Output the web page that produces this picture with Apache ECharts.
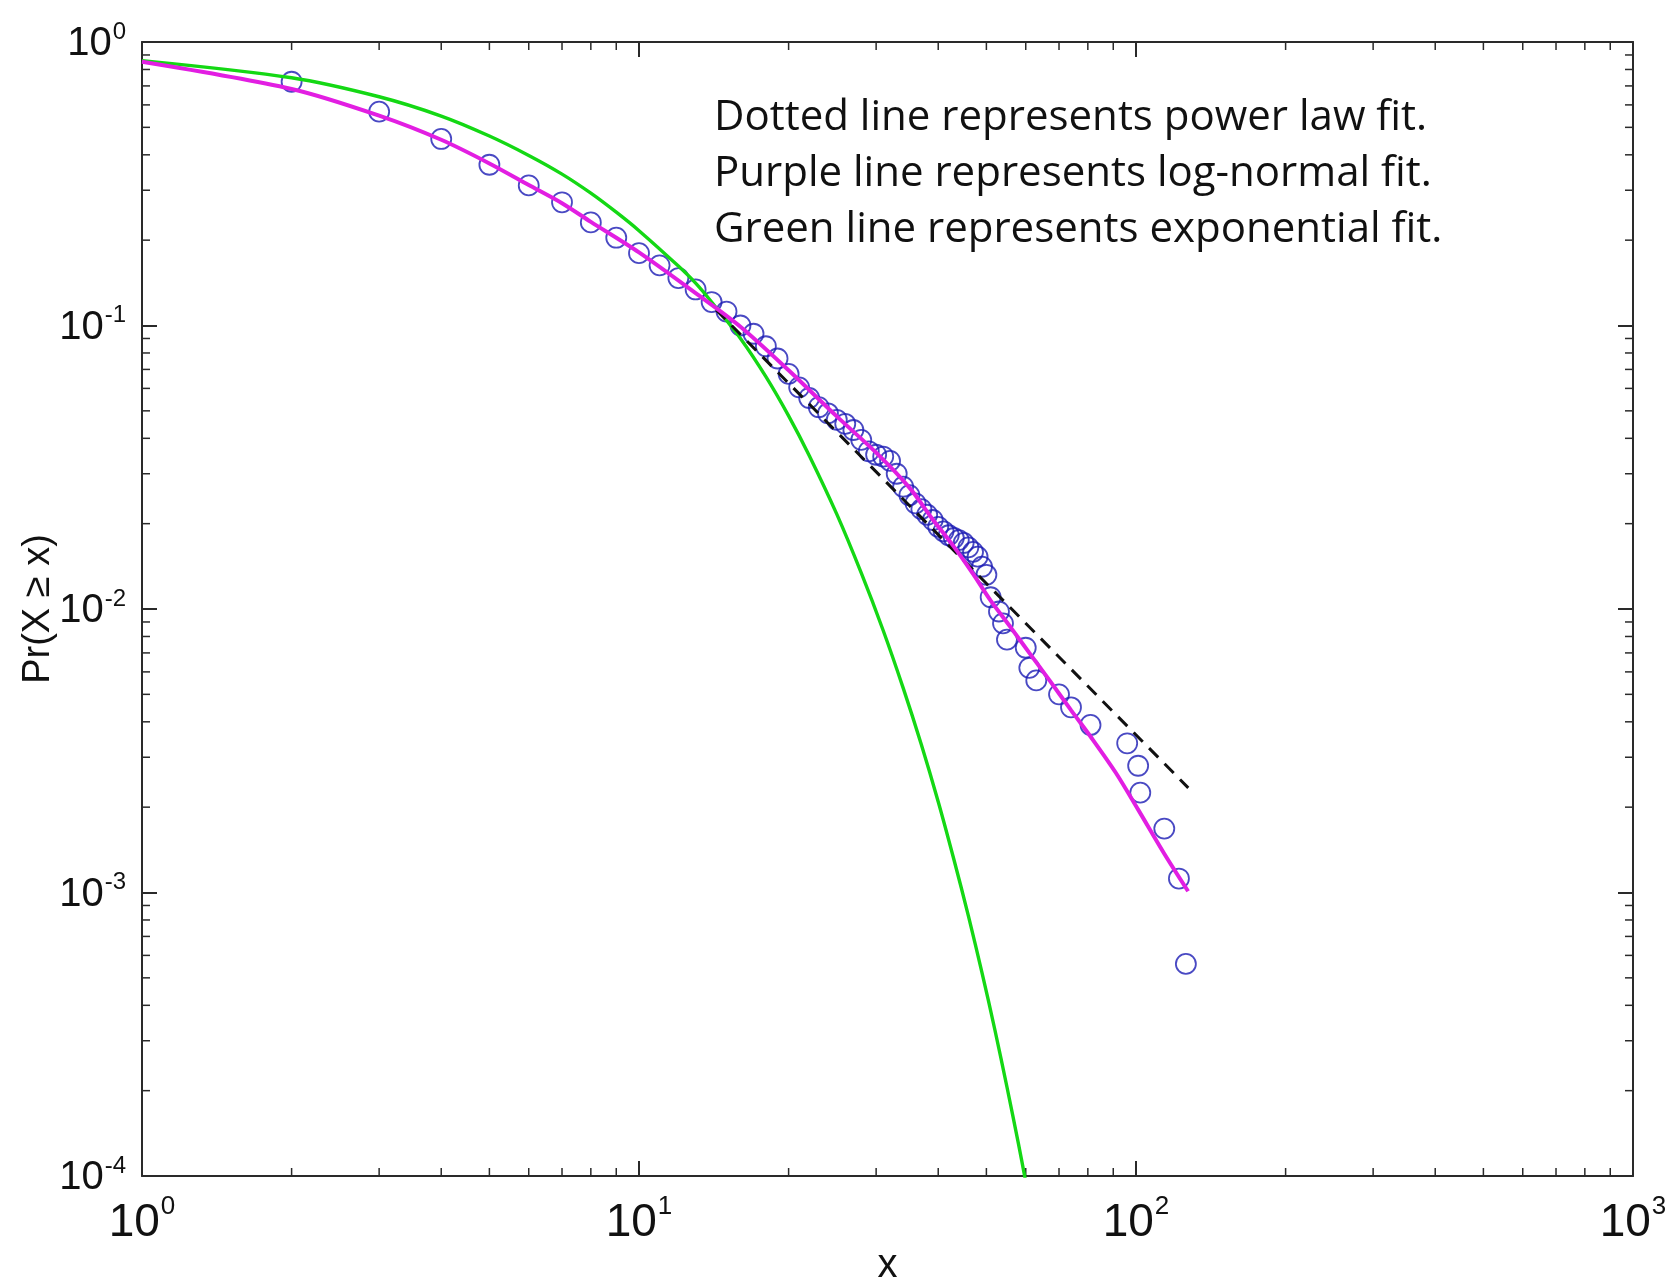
<!DOCTYPE html>
<html>
<head>
<meta charset="utf-8">
<script src="https://cdn.jsdelivr.net/npm/echarts@6/dist/echarts.min.js"></script>
<style>
html,body{margin:0;padding:0;background:#fff;}
#chart{width:1669px;height:1284px;}
</style>
</head>
<body>
<div id="chart"></div>
<script>
// ---- Data ----
const pointX = [2,3,4,5,6,7,8,9,10,11,12,13,14,15,16,17,18,19,20,21,22,23,24,25,26,27,28,29,30,31,32,33,34,35,36,37,38,39,40,41,42,43,44,45,46,47,48,49,50,51,53,54,55,60,61,63,70,74,81,96,101,102,114,122,126];
const pointY = [0.724,0.568,0.455,0.369,0.312,0.272,0.231,0.204,0.180,0.163,0.147,0.134,0.121,0.112,0.100,0.0935,0.0845,0.0765,0.0675,0.0605,0.0555,0.0515,0.0490,0.0465,0.0450,0.0428,0.0395,0.0360,0.0350,0.0345,0.0333,0.0300,0.0270,0.0252,0.0236,0.0225,0.0215,0.0206,0.0195,0.0188,0.0182,0.0178,0.0175,0.0171,0.0165,0.0159,0.0153,0.0141,0.0132,0.0110,0.0098,0.0089,0.0078,0.0073,0.0062,0.0056,0.0050,0.0045,0.0039,0.00336,0.00280,0.00225,0.00168,0.00112,0.00056];

const lognormX = [1,2,3,4,5,6,7,8,10,13,16,20,25,30,35,39,43,47,51,56,61,67,74,81,91,101,114,127.3];
const lognormY = [0.852,0.683,0.550,0.452,0.373,0.313,0.270,0.232,0.181,0.130,0.099,0.0695,0.0478,0.0356,0.0268,0.0207,0.0166,0.0133,0.0107,0.0086,0.0070,0.0056,0.0044,0.00355,0.00265,0.00196,0.00137,0.00101];

const expX = [1,2,3,4,5,6,7,8,9,10,12,13,14,16,18,20,22,25,28,31,34,37,40,43,46,49,52,55,58,60];
const expY = [0.860,0.748,0.641,0.548,0.466,0.398,0.342,0.293,0.251,0.216,0.162,0.141,0.121,0.0900,0.0660,0.0480,0.0348,0.0216,0.0134,0.00840,0.00527,0.00332,0.00209,0.00131,0.000827,0.000521,0.000328,0.000206,0.00013,0.0000954];

const powerX = [14.3,127.4];
const powerY = [0.1135,0.00234];

const notes = [
  'Dotted line represents power law fit.',
  'Purple line represents log-normal fit.',
  'Green line represents exponential fit.'
];

// ---- helpers ----
const zip = (xs, ys) => xs.map((x, i) => [x, ys[i]]);
const minorX = [];
for (let d = 0; d < 3; d++) for (let m = 2; m <= 9; m++) minorX.push(m * Math.pow(10, d));
const minorY = [];
for (let d = -4; d < 0; d++) for (let m = 2; m <= 9; m++) minorY.push(m * Math.pow(10, d));

const labelFont = '"Liberation Sans Narrow","Liberation Sans",Arial,sans-serif';
function powLabel(v) {
  const e = Math.round(Math.log10(v));
  return '{b|10}{s|' + e + '}';
}

const chart = echarts.init(document.getElementById('chart'), null, {renderer: 'canvas'});

const tickLen = 15, minorLen = 8;
const axisCommon = {
  type: 'log', logBase: 10,
  axisLine: {show: true, onZero: false, lineStyle: {color: '#2a2a2a', width: 2}},
  axisTick: {show: true, inside: true, length: tickLen, lineStyle: {color: '#2a2a2a', width: 2}},
  splitLine: {show: false},
  minorTick: {show: false}
};

const option = {
  animation: false,
  backgroundColor: '#fff',
  grid: {left: 142, right: 36, top: 42, bottom: 108, containLabel: false, outerBoundsMode: 'none'},
  xAxis: [
    Object.assign({}, axisCommon, {
      min: 1, max: 1000, position: 'bottom',
      name: 'x', nameLocation: 'middle', nameGap: 70, nameMoveOverlap: false,
      nameTextStyle: {fontFamily: labelFont, fontSize: 40, color: '#111'},
      axisLabel: {
        margin: 18, formatter: powLabel,
        rich: {
          b: {fontFamily: labelFont, fontSize: 46, color: '#111', verticalAlign: 'bottom', lineHeight: 52},
          s: {fontFamily: labelFont, fontSize: 26, color: '#111', verticalAlign: 'top', lineHeight: 26, padding: [0,0,0,1]}
        }
      }
    }),
    Object.assign({}, axisCommon, {
      min: 1, max: 1000, position: 'top', axisLabel: {show: false}
    })
  ],
  yAxis: [
    Object.assign({}, axisCommon, {
      min: 0.0001, max: 1, position: 'left',
      name: 'Pr(X \u2265 x)', nameLocation: 'middle', nameGap: 84, nameRotate: 90, nameMoveOverlap: false,
      nameTextStyle: {fontFamily: labelFont, fontSize: 38, color: '#111'},
      axisLabel: {
        margin: 16, formatter: powLabel,
        rich: {
          b: {fontFamily: labelFont, fontSize: 40, color: '#111', verticalAlign: 'bottom', lineHeight: 44},
          s: {fontFamily: labelFont, fontSize: 24, color: '#111', verticalAlign: 'top', lineHeight: 24, padding: [0,0,0,1]}
        }
      }
    }),
    Object.assign({}, axisCommon, {
      min: 0.0001, max: 1, position: 'right', axisLabel: {show: false}
    })
  ],
  graphic: notes.map((t, i) => ({
    type: 'text', left: 714, top: 97 + i * 56, z: 100,
    style: {text: t, fontFamily: '"Open Sans", Lato, sans-serif', fontSize: 42, fill: '#111'}
  })),
  series: [
    {
      type: 'custom', name: 'minorTicks', xAxisIndex: 0, yAxisIndex: 0,
      data: [[10, 0.01]], silent: true, z: 1,
      renderItem: function (params, api) {
        const children = [];
        const style = {stroke: '#2a2a2a', lineWidth: 1.5};
        minorX.forEach(v => {
          const pb = api.coord([v, 0.0001]);
          const pt = api.coord([v, 1]);
          children.push({type: 'line', shape: {x1: pb[0], y1: pb[1], x2: pb[0], y2: pb[1] - minorLen}, style: style});
          children.push({type: 'line', shape: {x1: pt[0], y1: pt[1], x2: pt[0], y2: pt[1] + minorLen}, style: style});
        });
        minorY.forEach(v => {
          const pl = api.coord([1, v]);
          const pr = api.coord([1000, v]);
          children.push({type: 'line', shape: {x1: pl[0], y1: pl[1], x2: pl[0] + minorLen, y2: pl[1]}, style: style});
          children.push({type: 'line', shape: {x1: pr[0], y1: pr[1], x2: pr[0] - minorLen, y2: pr[1]}, style: style});
        });
        return {type: 'group', children: children};
      }
    },
    {
      type: 'scatter', name: 'data', data: zip(pointX, pointY),
      symbol: 'circle', symbolSize: 20, z: 2,
      itemStyle: {color: 'rgba(0,0,0,0)', borderColor: '#1c1cb4', borderWidth: 1.8}
    },
    {
      type: 'line', name: 'exponential', data: zip(expX, expY),
      showSymbol: false, smooth: 0.3, z: 3,
      lineStyle: {color: '#14d814', width: 3.4}
    },
    {
      type: 'line', name: 'power law', data: zip(powerX, powerY),
      showSymbol: false, z: 4,
      lineStyle: {color: '#111', width: 3, type: [13, 9]}
    },
    {
      type: 'line', name: 'log-normal', data: zip(lognormX, lognormY),
      showSymbol: false, smooth: 0.3, z: 5,
      lineStyle: {color: '#e21ee2', width: 4}
    }
  ]
};
chart.setOption(option);
</script>
</body>
</html>
